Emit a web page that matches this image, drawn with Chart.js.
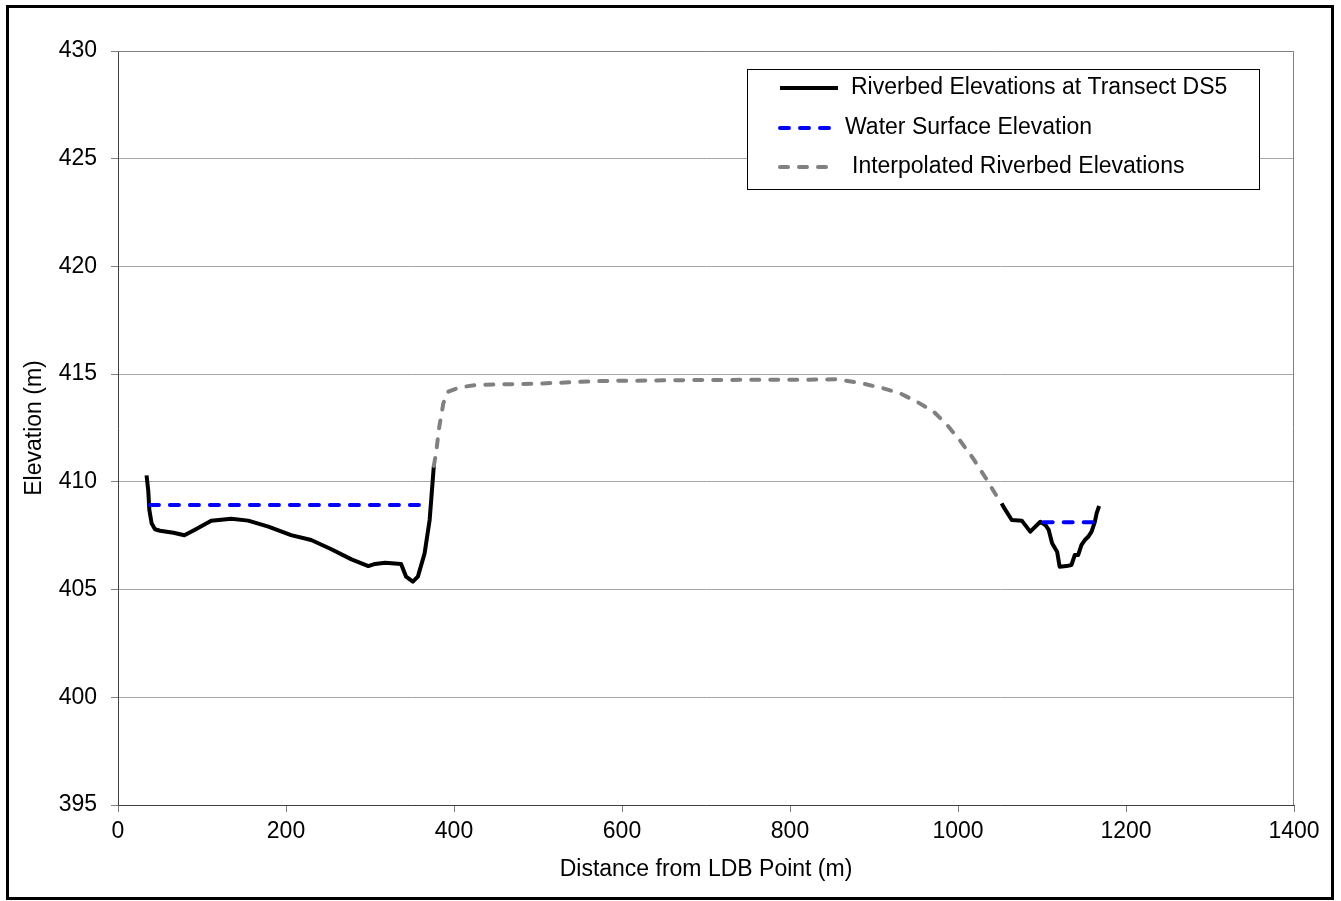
<!DOCTYPE html>
<html>
<head>
<meta charset="utf-8">
<script src="https://cdn.jsdelivr.net/npm/chart.js"></script>
<style>
  body { margin: 0; background: #fff; }
  canvas { display: block; }
</style>
</head>
<body>
<canvas id="myChart" width="1341" height="901"></canvas>
<script>
// riverbed survey, left bank part
var leftDist = [34, 36, 37.3, 40, 44, 50, 66, 79, 91, 111, 135, 155, 179, 206, 230, 254, 278, 298, 306, 318, 337, 343, 351, 357, 365, 371, 376];
var leftElev = [410.3, 409.6, 408.7, 408.08, 407.8, 407.73, 407.64, 407.52, 407.77, 408.2, 408.29, 408.2, 407.92, 407.53, 407.3, 406.87, 406.4, 406.09, 406.19, 406.25, 406.19, 405.6, 405.37, 405.6, 406.68, 408.23, 410.74];

// riverbed survey, right channel part
var rightDist = [1052, 1054, 1064, 1076, 1086, 1098, 1104, 1108, 1112, 1118, 1121, 1129, 1135, 1139, 1143, 1147, 1151, 1155, 1159, 1163, 1165, 1168];
var rightElev = [409.0, 408.85, 408.23, 408.2, 407.69, 408.15, 408.0, 407.77, 407.15, 406.76, 406.06, 406.09, 406.14, 406.6, 406.6, 407.07, 407.3, 407.45, 407.69, 408.15, 408.54, 408.88];

// interpolated middle section
var interpDist = [376, 378.6, 382.5, 387.3, 393.3, 407, 427, 500, 574, 693, 812, 855, 883, 911, 931, 951, 971, 987, 1002, 1018, 1032, 1044, 1052];
var interpElev = [410.74, 411.33, 412.56, 413.65, 414.19, 414.39, 414.5, 414.56, 414.68, 414.73, 414.74, 414.76, 414.6, 414.34, 414.11, 413.72, 413.26, 412.64, 411.94, 411.09, 410.24, 409.47, 409.0];

// water surface (two channels)
var waterLeftDist = [38, 361];
var waterLeftElev = [408.93, 408.93];
var waterRightDist = [1102, 1165];
var waterRightElev = [408.12, 408.12];

var xTicks = [0, 200, 400, 600, 800, 1000, 1200, 1400];
var yTicks = [395, 400, 405, 410, 415, 420, 425, 430];

function toPoints(xs, ys) {
  return xs.map(function (x, i) { return {x: x, y: ys[i]}; });
}

var riverbedPts = toPoints(leftDist, leftElev).concat([{x: 700, y: null}], toPoints(rightDist, rightElev));
var waterPts = toPoints(waterLeftDist, waterLeftElev).concat([{x: 700, y: null}], toPoints(waterRightDist, waterRightElev));
var interpPts = toPoints(interpDist, interpElev);

var fontFamily = "'Liberation Sans', Arial, sans-serif";
Chart.defaults.font.family = fontFamily;
Chart.defaults.font.size = 23;
Chart.defaults.color = '#000';

// outer frame, plot border and the boxed legend
var frameAndLegend = {
  id: 'frameAndLegend',
  beforeDraw: function (chart) {
    var c = chart.ctx;
    c.save();
    c.fillStyle = '#fff';
    c.fillRect(0, 0, chart.width, chart.height);
    c.restore();
  },
  afterDraw: function (chart) {
    var c = chart.ctx, a = chart.chartArea;
    c.save();
    // top / right plot border
    c.strokeStyle = '#808080';
    c.lineWidth = 1;
    c.beginPath();
    c.moveTo(a.left, a.top + 0.5);
    c.lineTo(a.right - 0.5, a.top + 0.5);
    c.lineTo(a.right - 0.5, a.bottom);
    c.stroke();

    // legend
    c.fillStyle = '#fff';
    c.fillRect(747, 69, 512, 120);
    c.strokeStyle = '#000';
    c.strokeRect(747.5, 69.5, 512, 120);
    var rowY = [88, 128, 167];
    var lineEnd = [838, 833, 833];
    var textX = [851, 845, 852];
    chart.data.datasets.forEach(function (ds, i) {
      c.beginPath();
      c.strokeStyle = ds.borderColor;
      c.lineWidth = 4;
      c.lineCap = ds.borderDash ? 'round' : 'butt';
      c.setLineDash(ds.borderDash || []);
      c.moveTo(780, rowY[i]);
      c.lineTo(lineEnd[i], rowY[i]);
      c.stroke();
      c.setLineDash([]);
      c.fillStyle = '#000';
      c.font = '23px ' + fontFamily;
      c.textBaseline = 'middle';
      c.textAlign = 'left';
      c.fillText(ds.label, textX[i], rowY[i]);
    });

    // outer frame
    c.strokeStyle = '#000';
    c.lineWidth = 3;
    c.strokeRect(7.5, 6.5, 1325, 892);
    c.restore();
  }
};

var ctx = document.getElementById('myChart');
var myChart = new Chart(ctx, {
  type: 'scatter',
  data: {
    datasets: [{
      label: 'Riverbed Elevations at Transect DS5',
      data: riverbedPts,
      showLine: true,
      spanGaps: false,
      borderColor: '#000000',
      borderWidth: 4,
      borderJoinStyle: 'round',
      pointRadius: 0,
      order: 3
    }, {
      label: 'Water Surface Elevation',
      data: waterPts,
      showLine: true,
      spanGaps: false,
      borderColor: '#0000ff',
      borderWidth: 4,
      borderDash: [9, 11],
      borderCapStyle: 'round',
      pointRadius: 0,
      order: 1
    }, {
      label: 'Interpolated Riverbed Elevations',
      data: interpPts,
      showLine: true,
      borderColor: '#808080',
      borderWidth: 4,
      borderDash: [8, 11],
      borderCapStyle: 'round',
      pointRadius: 0,
      order: 2
    }]
  },
  options: {
    responsive: false,
    animation: false,
    layout: { padding: { top: 51, right: 47, left: 0, bottom: 0 } },
    plugins: {
      legend: { display: false },
      tooltip: { enabled: false }
    },
    scales: {
      x: {
        type: 'linear',
        min: 0,
        max: 1400,
        afterFit: function (scale) { scale.height = 96; },
        afterBuildTicks: function (scale) {
          scale.ticks = xTicks.map(function (v) { return {value: v}; });
        },
        ticks: {
          padding: 6,
          maxRotation: 0,
          autoSkip: false,
          callback: function (v) { return String(v); }
        },
        grid: { drawOnChartArea: false, tickLength: 7, tickColor: '#808080' },
        border: { color: '#404040', width: 1 },
        title: {
          display: true,
          text: 'Distance from LDB Point (m)',
          padding: { top: 0, bottom: 18 }
        }
      },
      y: {
        min: 395,
        max: 430,
        afterFit: function (scale) { scale.width = 118; },
        afterBuildTicks: function (scale) {
          scale.ticks = yTicks.map(function (v) { return {value: v}; });
        },
        ticks: { padding: 14 },
        grid: { color: '#a6a6a6', tickLength: 7, tickColor: '#808080' },
        border: { color: '#404040', width: 1 },
        title: {
          display: true,
          text: 'Elevation (m)',
          padding: { top: 21, bottom: 0 }
        }
      }
    }
  },
  plugins: [frameAndLegend]
});
</script>
</body>
</html>
